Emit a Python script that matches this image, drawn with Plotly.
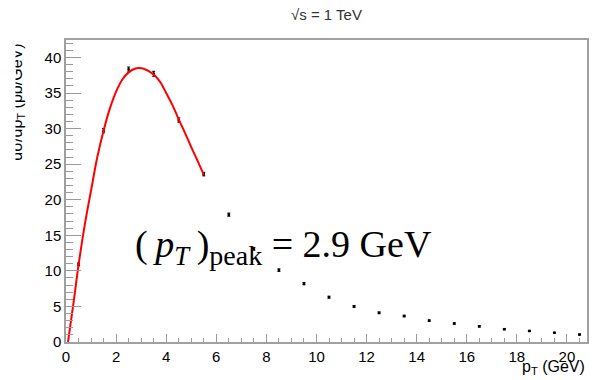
import plotly.graph_objects as go

# data points (bin centres, values, errors)
pt = [0.5, 1.5, 2.5, 3.5, 4.5, 5.5, 6.5, 7.5, 8.5, 9.5, 10.5,
      11.5, 12.5, 13.5, 14.5, 15.5, 16.5, 17.5, 18.5, 19.5, 20.5]
xsec = [10.9, 29.7, 38.3, 37.7, 31.2, 23.6, 17.9, 13.1, 10.1, 8.2, 6.3,
        5.0, 4.1, 3.65, 3.0, 2.6, 2.2, 1.8, 1.55, 1.3, 1.05]
err = [0.2, 0.3, 0.35, 0.35, 0.3, 0.25, 0.22, 0.2, 0.18, 0.16, 0.14,
       0.12, 0.12, 0.11, 0.1, 0.1, 0.09, 0.08, 0.08, 0.07, 0.07]

# fit curve samples
fit_x = [0.08, 0.3, 0.5, 0.75, 1.0, 1.25, 1.5, 1.75, 2.0, 2.25, 2.5, 2.75,
         2.9, 3.1, 3.5, 3.75, 4.0, 4.25, 4.5, 4.75, 5.0, 5.25, 5.5]
fit_y = [0.0, 5.5, 10.8, 16.5, 21.3, 26.0, 29.7, 32.8, 35.2, 36.9, 37.9, 38.4,
         38.5, 38.4, 37.6, 36.6, 35.0, 33.3, 31.3, 29.4, 27.4, 25.5, 23.5]

fig = go.Figure()
fig.add_trace(go.Scatter(
    x=pt, y=xsec, mode="markers",
    marker=dict(symbol="square", size=2.5, color="black"),
    error_y=dict(type="data", array=err, color="black", thickness=1, width=1.5),
    showlegend=False))
fig.add_trace(go.Scatter(
    x=fit_x, y=fit_y, mode="lines", line=dict(color="#ff0000", width=2, shape="spline"),
    showlegend=False))

axis_common = dict(showline=True, linecolor="#a0a0a0", linewidth=1.5, mirror=True,
                   ticks="inside", tickcolor="#9a9a9a", showgrid=False, zeroline=False,
                   tickfont=dict(family="Liberation Sans, Arial", size=15, color="black"))

fig.update_layout(
    width=592, height=380,
    margin=dict(l=66, r=3, t=40, b=38),
    plot_bgcolor="white", paper_bgcolor="white",
    xaxis=dict(range=[0, 20.8], dtick=2, tick0=0, ticklen=8, tickwidth=1,
               minor=dict(dtick=0.5, ticklen=4, ticks="inside", tickcolor="#9a9a9a"),
               **axis_common),
    yaxis=dict(range=[0, 42.45], dtick=5, tick0=0, ticklen=15, tickwidth=1,
               minor=dict(dtick=1, ticklen=7, ticks="inside", tickcolor="#9a9a9a"),
               **axis_common),
    annotations=[
        dict(text="√s = 1 TeV", xref="paper", yref="paper", x=(327.5 - 66) / 523,
             y=(342 - 15) / 302, xanchor="center", yanchor="middle", showarrow=False,
             font=dict(family="Liberation Sans, Arial", size=15, color="#333333")),
        dict(text="p<sub>T</sub> (GeV)", xref="paper", yref="paper", x=1.0,
             y=(342 - 367) / 302, xanchor="right", yanchor="middle", showarrow=False,
             font=dict(family="Liberation Sans, Arial", size=16, color="black")),
        dict(text="dσ/dp<sub>T</sub> (pb/GeV)", xref="paper", yref="paper",
             x=(17 - 66) / 523, y=(342 - 42) / 302, xanchor="center", yanchor="top",
             textangle=-90, showarrow=False,
             font=dict(family="Liberation Sans, Arial", size=16, color="black")),
        dict(text=" ", xref="paper", yref="paper", x=(0 - 66) / 523, y=1.02,
             xanchor="left", yanchor="top", width=14, height=150, bgcolor="white",
             showarrow=False, borderpad=0),
        dict(text="(\u2009<i>p</i><sub><i>T</i></sub>\u2009)<sub><span style='font-size:28px'>peak</span></sub> = 2.9 GeV",
             xref="paper", yref="paper", x=(133 - 66) / 523, y=(342 - 247) / 302,
             xanchor="left", yanchor="middle", showarrow=False,
             font=dict(family="Liberation Serif, Times New Roman", size=38, color="black")),
    ],
)

fig.write_html("out.html")
